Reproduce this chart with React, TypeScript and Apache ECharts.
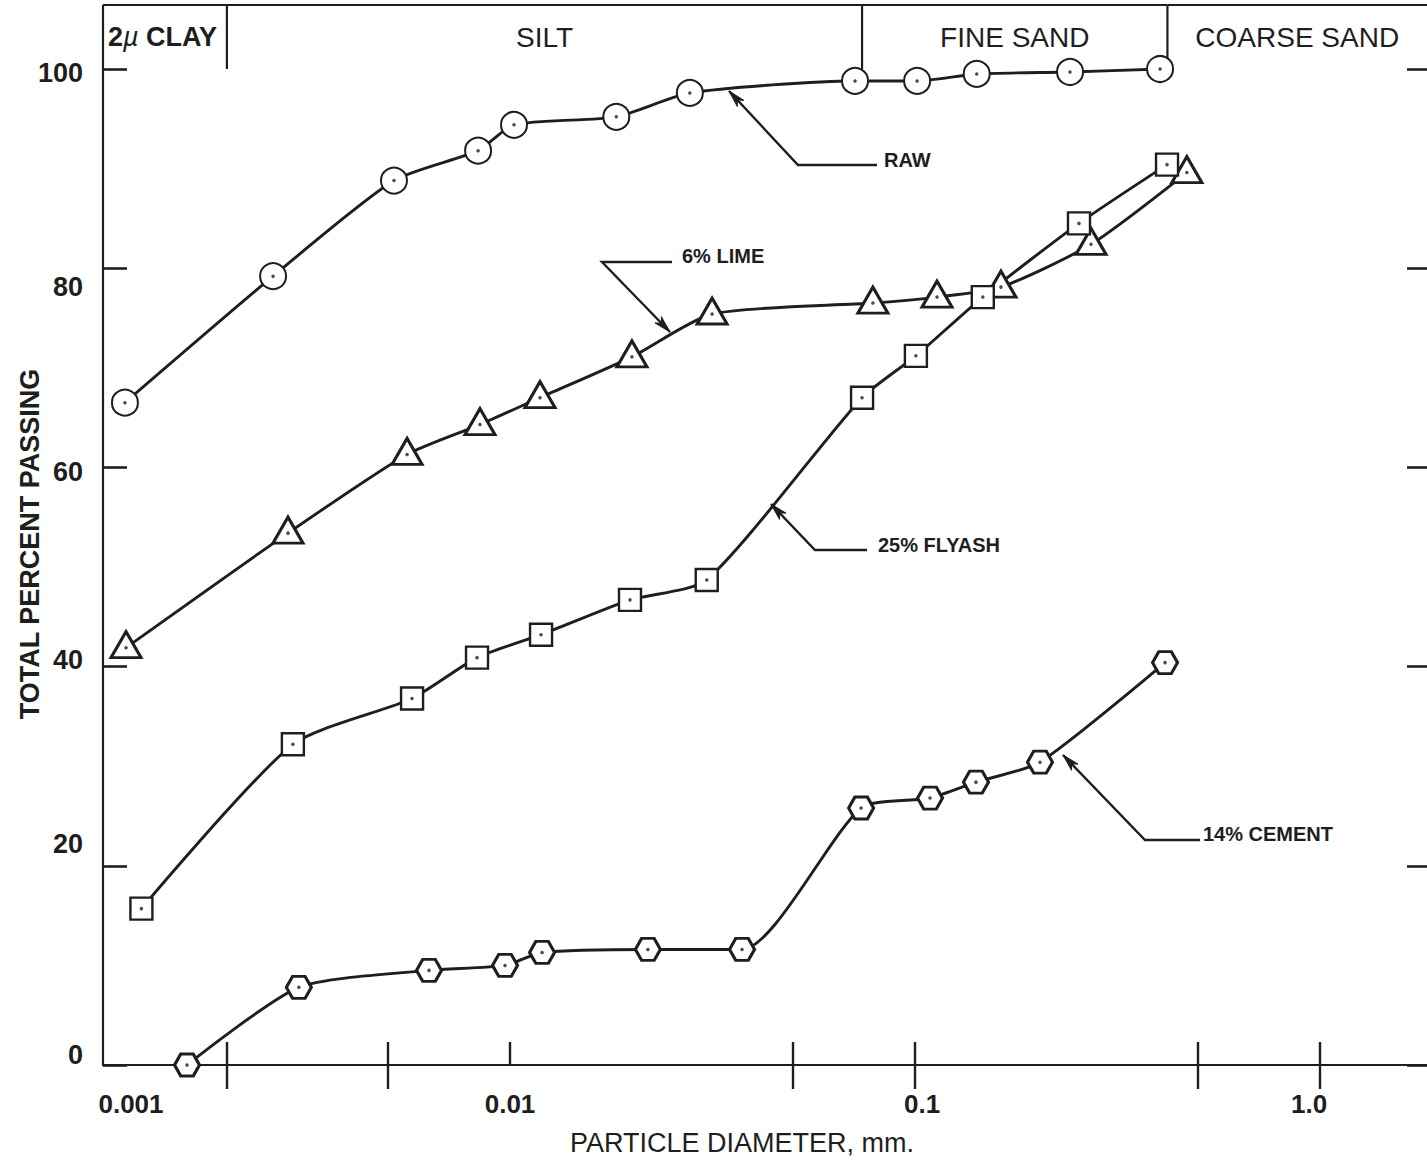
import React, { useEffect, useRef } from "react";
import * as echarts from "echarts";

// ---------- data (particle diameter in mm, total percent passing) ----------
const rawDiameter = [0.00112, 0.0026, 0.00517, 0.00834, 0.01023, 0.0183, 0.0278, 0.0711, 0.1012, 0.142, 0.2414, 0.4027];
const rawPassing = [66.5, 79.2, 88.8, 91.8, 94.4, 95.2, 97.6, 98.8, 98.8, 99.5, 99.7, 100];

const limeDiameter = [0.001127, 0.00283, 0.00557, 0.00843, 0.01186, 0.02, 0.03155, 0.0787, 0.1133, 0.163, 0.272, 0.469];
const limePassing = [41.9, 53.4, 61.3, 64.3, 67.0, 71.1, 75.4, 76.5, 77.1, 78.1, 82.4, 89.6];

const flyashDiameter = [0.00123, 0.00291, 0.00573, 0.00829, 0.01193, 0.01978, 0.0306, 0.074, 0.1005, 0.147, 0.254, 0.419];
const flyashPassing = [15.7, 32.2, 36.8, 40.9, 43.2, 46.7, 48.7, 67.0, 71.2, 77.1, 84.5, 90.4];

const cementDiameter = [0.001594, 0.00301, 0.00631, 0.00972, 0.012, 0.0219, 0.0374, 0.0736, 0.1089, 0.1414, 0.2035, 0.4143];
const cementPassing = [0, 7.8, 9.5, 10.0, 11.3, 11.6, 11.6, 25.8, 26.8, 28.4, 30.4, 40.4];

const seriesNames = ["RAW", "6% LIME", "25% FLYASH", "14% CEMENT"];

const X_MIN = 0.0009887;
const X_MAX = 1.837;
const xBottomTicks = [0.002, 0.005, 0.01, 0.05, 0.1, 0.5, 1.0];
const xTopTicks = [0.002, 0.005, 0.05, 0.1, 0.5, 1.0];
const xLabelValues = [0.001, 0.01, 0.1, 1.0];
const xLabelTexts = ["0.001", "0.01", "0.1", "1.0"];
const yTickValues = [0, 20, 40, 60, 80, 100];

const bandStart = [X_MIN, 0.002, 0.074, 0.42];
const bandEnd = [0.002, 0.074, 0.42, X_MAX];
const bandNames = ["2µ CLAY", "SILT", "FINE SAND", "COARSE SAND"];

// ---------- styling ----------
const INK = "#1e1e1e";
const FONT = "'Liberation Sans', Arial, Helvetica, sans-serif";

const HEX = "path://M0,10 L5,1.34 L15,1.34 L20,10 L15,18.66 L5,18.66 Z";

function pairs(d: number[], p: number[]) {
  return d.map((v, i) => [v, p[i]]);
}

function arrowHead(tip: number[], from: number[], len = 17, half = 4.5) {
  const dx = from[0] - tip[0];
  const dy = from[1] - tip[1];
  const l = Math.hypot(dx, dy);
  const ux = dx / l;
  const uy = dy / l;
  const bx = tip[0] + ux * len;
  const by = tip[1] + uy * len;
  return [
    tip,
    [bx - uy * half, by + ux * half],
    [tip[0] + ux * len * 0.72, tip[1] + uy * len * 0.72],
    [bx + uy * half, by - ux * half],
  ];
}

const annotations = [
  { text: seriesNames[0], at: [884, 160], path: [[877, 165], [798, 165], [729, 91]] },
  { text: seriesNames[1], at: [682, 256], path: [[672, 262], [602, 262], [670, 332]] },
  { text: seriesNames[2], at: [878, 545], path: [[867, 550], [815, 550], [771, 504]] },
  { text: seriesNames[3], at: [1203, 834], path: [[1200, 840], [1145, 840], [1063, 755]] },
];

function buildOption(): any {
  const tickFont = { fontFamily: FONT, fontWeight: "bold", fontSize: 26, color: INK };
  const yLabelFont = { fontFamily: FONT, fontWeight: "bold", fontSize: 27, color: INK };
  const yRich: any = {
    y0: { ...yLabelFont, padding: [0, 0, 20, 0] },
    y20: { ...yLabelFont, padding: [0, 0, 44, 0] },
    y40: { ...yLabelFont, padding: [0, 0, 14, 0] },
    y60: { ...yLabelFont, padding: [10, 0, 0, 0] },
    y80: { ...yLabelFont, padding: [38, 0, 0, 0] },
    y100: { ...yLabelFont, padding: [8, 0, 0, 0] },
  };
  const xRich: any = {
    l0: { ...tickFont, padding: [0, 0, 0, 52] },
    l1: { ...tickFont },
    l2: { ...tickFont, padding: [0, 0, 0, 14] },
    l3: { ...tickFont, padding: [0, 22, 0, 0] },
  };

  const lineCommon = {
    type: "line",
    smooth: 0.22,
    clip: false,
    showSymbol: true,
    lineStyle: { color: INK, width: 2.9 },
    emphasis: { disabled: true },
    z: 3,
  };

  const graphics: any[] = [];
  annotations.forEach((a) => {
    graphics.push({
      type: "polyline",
      shape: { points: a.path },
      style: { stroke: INK, lineWidth: 2.4, fill: "none" },
      z: 10,
    });
    const n = a.path.length;
    graphics.push({
      type: "polygon",
      shape: { points: arrowHead(a.path[n - 1], a.path[n - 2]) },
      style: { fill: INK, stroke: INK, lineWidth: 1 },
      z: 10,
    });
    graphics.push({
      type: "text",
      x: a.at[0],
      y: a.at[1],
      style: {
        text: a.text,
        fontFamily: FONT,
        fontWeight: "bold",
        fontSize: 20,
        fill: INK,
        align: "left",
        verticalAlign: "middle",
      },
      z: 10,
    });
  });

  return {
    animation: false,
    backgroundColor: "#ffffff",
    grid: { left: 103, right: 0, top: 69, bottom: 100, containLabel: false, outerBoundsMode: "none" },
    xAxis: [
      {
        type: "log",
        logBase: 10,
        min: X_MIN,
        max: X_MAX,
        position: "bottom",
        axisLine: { show: true, lineStyle: { color: INK, width: 2.2 } },
        axisTick: {
          show: true,
          inside: true,
          length: 23,
          customValues: xBottomTicks,
          lineStyle: { color: INK, width: 2.4 },
        },
        minorTick: { show: false },
        splitLine: { show: false },
        axisLabel: {
          show: true,
          margin: 26,
          customValues: xLabelValues,
          ...tickFont,
          formatter: (v: number) => {
            let best = 0;
            let bd = Infinity;
            xLabelValues.forEach((lv, i) => {
              const d = Math.abs(Math.log10(v) - Math.log10(lv));
              if (d < bd) {
                bd = d;
                best = i;
              }
            });
            return `{l${best}|${xLabelTexts[best]}}`;
          },
          rich: xRich,
        },
        name: "PARTICLE DIAMETER, mm.",
        nameLocation: "middle",
        nameGap: 64,
        nameMoveOverlap: false,
        nameTextStyle: {
          fontFamily: FONT,
          fontSize: 27,
          color: INK,
          padding: [0, 46, 0, 0],
        },
      },
      {
        type: "log",
        logBase: 10,
        min: X_MIN,
        max: X_MAX,
        position: "top",
        axisLine: { show: true, lineStyle: { color: INK, width: 2.2 } },
        axisTick: {
          show: true,
          inside: true,
          length: 24,
          customValues: xTopTicks,
          lineStyle: { color: INK, width: 2.4 },
        },
        minorTick: { show: false },
        splitLine: { show: false },
        axisLabel: { show: false },
      },
    ],
    yAxis: [
      {
        type: "value",
        min: 0,
        max: 100,
        interval: 20,
        position: "left",
        axisLine: { show: true, lineStyle: { color: INK, width: 2.2 } },
        axisTick: { show: true, inside: true, length: 24, lineStyle: { color: INK, width: 2.6 } },
        splitLine: { show: false },
        axisLabel: {
          show: true,
          margin: 20,
          ...yLabelFont,
          customValues: yTickValues,
          formatter: (v: number) => `{y${Math.round(v)}|${Math.round(v)}}`,
          rich: yRich,
        },
        name: "TOTAL PERCENT PASSING",
        nameLocation: "middle",
        nameGap: 60,
        nameRotate: 90,
        nameMoveOverlap: false,
        nameTextStyle: {
          fontFamily: FONT,
          fontWeight: "bold",
          fontSize: 27,
          color: INK,
          padding: [0, 0, 0, 46],
        },
      },
      {
        type: "value",
        min: 0,
        max: 100,
        interval: 20,
        position: "right",
        axisLine: { show: false },
        axisTick: { show: true, inside: true, length: 20, lineStyle: { color: INK, width: 2.6 } },
        splitLine: { show: false },
        axisLabel: { show: false },
      },
    ],
    series: [
      {
        type: "custom",
        name: "bands",
        xAxisIndex: 0,
        yAxisIndex: 0,
        clip: false,
        silent: true,
        z: 1,
        data: bandStart.map((s) => [s, 100]),
        renderItem: (params: any, api: any) => {
          const i = params.dataIndex;
          const p0 = api.coord([bandStart[i], 100]);
          const p1 = api.coord([bandEnd[i], 100]);
          const h = 64;
          const yb = p0[1];
          const isClay = i === 0;
          const textEl: any = isClay
            ? {
                type: "text",
                x: p0[0] + 5,
                y: yb - h / 2,
                style: {
                  text: "{n|2}{mu|µ}{n| CLAY}",
                  align: "left",
                  verticalAlign: "middle",
                  rich: {
                    n: { fontFamily: FONT, fontWeight: "bold", fontSize: 27, fill: INK, color: INK },
                    mu: { fontFamily: FONT, fontStyle: "italic", fontSize: 27, fill: INK, color: INK },
                  },
                },
              }
            : {
                type: "text",
                x: (p0[0] + p1[0]) / 2,
                y: yb - h / 2,
                style: {
                  text: bandNames[i],
                  fontFamily: FONT,
                  fontSize: 28,
                  fill: INK,
                  align: "center",
                  verticalAlign: "middle",
                },
              };
          return {
            type: "group",
            children: [
              {
                type: "line",
                shape: { x1: p0[0], y1: yb - h, x2: p0[0], y2: yb },
                style: { stroke: INK, lineWidth: 2.2 },
              },
              {
                type: "line",
                shape: { x1: p0[0], y1: yb - h, x2: p1[0], y2: yb - h },
                style: { stroke: INK, lineWidth: 2.2 },
              },
              textEl,
            ],
          };
        },
      },
      {
        ...lineCommon,
        name: seriesNames[0],
        data: pairs(rawDiameter, rawPassing),
        symbol: "circle",
        symbolSize: 26,
        itemStyle: { color: "#ffffff", borderColor: INK, borderWidth: 2 },
      },
      {
        ...lineCommon,
        name: seriesNames[1],
        data: pairs(limeDiameter, limePassing),
        symbol: "triangle",
        symbolSize: [30, 26],
        symbolOffset: [0, -3],
        itemStyle: { color: "#ffffff", borderColor: INK, borderWidth: 3 },
      },
      {
        ...lineCommon,
        name: seriesNames[2],
        data: pairs(flyashDiameter, flyashPassing),
        symbol: "rect",
        symbolSize: 22,
        itemStyle: { color: "#ffffff", borderColor: INK, borderWidth: 2.4 },
      },
      {
        ...lineCommon,
        name: seriesNames[3],
        data: pairs(cementDiameter, cementPassing),
        symbol: HEX,
        symbolSize: [25, 22],
        itemStyle: { color: "#ffffff", borderColor: INK, borderWidth: 3 },
      },
      {
        type: "scatter",
        name: "centres",
        clip: false,
        silent: true,
        symbol: "circle",
        symbolSize: 3.5,
        itemStyle: { color: INK },
        z: 5,
        data: [
          ...pairs(rawDiameter, rawPassing),
          ...pairs(limeDiameter, limePassing),
          ...pairs(flyashDiameter, flyashPassing),
          ...pairs(cementDiameter, cementPassing),
        ],
      },
    ],
    graphic: graphics,
  };
}

export default function App() {
  const ref = useRef<HTMLDivElement>(null);
  useEffect(() => {
    if (!ref.current) return;
    const chart = echarts.init(ref.current, null, { renderer: "svg" });
    chart.setOption(buildOption());
    return () => {
      chart.dispose();
    };
  }, []);
  return (
    <div
      ref={ref}
      style={{ position: "absolute", left: 0, top: 0, width: 1427, height: 1165, background: "#fff" }}
    />
  );
}
